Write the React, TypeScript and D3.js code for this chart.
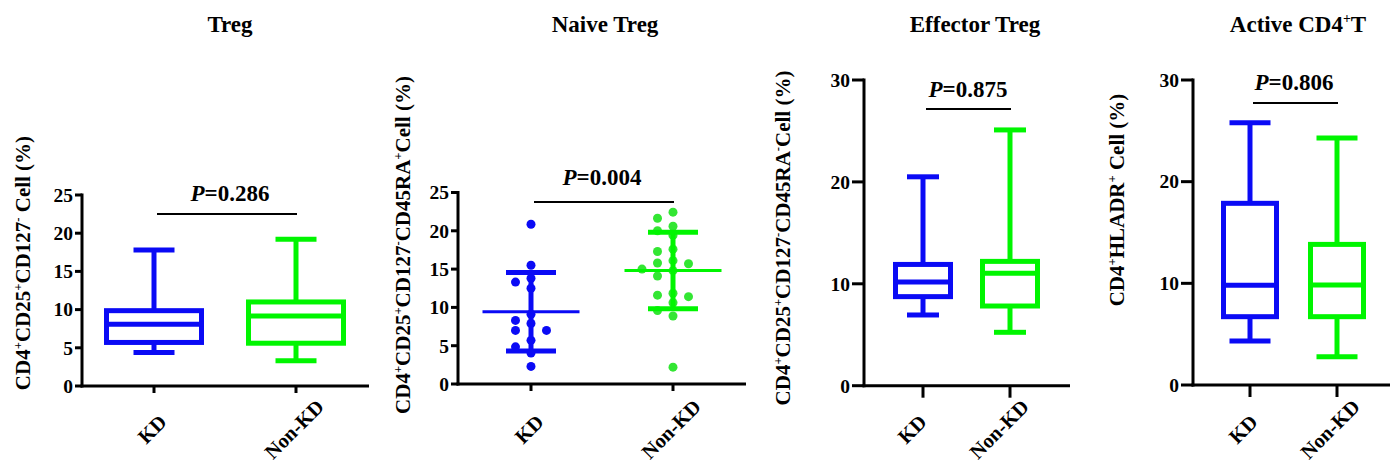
import React from "react";
import * as d3 from "d3";

// ---------- data ----------
const groups = ["KD", "Non-KD"];
const titles = ["Treg", "Naive Treg", "Effector Treg", "Active CD4^+T"];
const yLabels = [
  "CD4^+CD25^+CD127^- Cell (%)",
  "CD4^+CD25^+CD127^-CD45RA^+Cell (%)",
  "CD4^+CD25^+CD127^-CD45RA^-Cell (%)",
  "CD4^+HLADR^+ Cell (%)",
];
const pValues = ["0.286", "0.004", "0.875", "0.806"];
const ticks25 = [0, 5, 10, 15, 20, 25];
const ticks30 = [0, 10, 20, 30];

// box plots: [min, q1, median, q3, max]
const tregKD = [4.4, 5.7, 8.07, 9.86, 17.8];
const tregNonKD = [3.3, 5.6, 9.16, 11.0, 19.2];
const effectorKD = [6.94, 8.74, 10.18, 11.9, 20.5];
const effectorNonKD = [5.24, 7.82, 11.03, 12.2, 25.1];
const activeKD = [4.33, 6.72, 9.8, 17.87, 25.8];
const activeNonKD = [2.78, 6.72, 9.83, 13.83, 24.3];

// scatter (mean ± SD)
const naiveKD = [20.85, 15.5, 13.8, 13.3, 12.5, 9.1, 8.3, 7.9, 7.0, 7.0, 5.7, 4.85, 4.05, 2.3];
const naiveNonKD = [
  22.43, 21.64, 20.6, 20.0, 19.4, 17.6, 17.3, 16.1, 15.8, 15.7, 15.0, 14.8, 14.1,
  11.85, 11.6, 11.4, 10.6, 9.6, 8.87, 2.2,
];

// ---------- layout / style ----------
const BLUE = "#0a0af5";
const GREEN = "#00f500";
const GREEN_DOT = "#33e633";
const FONT = "'Liberation Serif', 'Times New Roman', serif";

type Panel = {
  kind: "box" | "dot";
  data: number[][];
  ticks: number[];
  yMax: number;
  axisX: number;
  y0: number;
  yTop: number;
  xKD: number;
  xNon: number;
  axisEnd: number;
  tickLen: number;
  boxW: number;
  capW: number;
  sigY: number;
  pX: number;
  pY: number;
  titleX: number;
  ylabX: number;
  ylabY: number;
  xlabDx: number;
};

const panels: Panel[] = [
  {
    kind: "box", data: [tregKD, tregNonKD], ticks: ticks25, yMax: 25,
    axisX: 82, y0: 386, yTop: 195, xKD: 154, xNon: 296, axisEnd: 369, tickLen: 7,
    boxW: 95, capW: 41, sigY: 214, pX: 230, pY: 201, titleX: 230, ylabX: 30, ylabY: 263, xlabDx: -2,
  },
  {
    kind: "dot", data: [naiveKD, naiveNonKD], ticks: ticks25, yMax: 25,
    axisX: 458, y0: 384, yTop: 192.5, xKD: 531, xNon: 673, axisEnd: 746, tickLen: 7,
    boxW: 97, capW: 50, sigY: 202, pX: 602, pY: 185, titleX: 605, ylabX: 410, ylabY: 245, xlabDx: -2,
  },
  {
    kind: "box", data: [effectorKD, effectorNonKD], ticks: ticks30, yMax: 30,
    axisX: 864, y0: 385.7, yTop: 80, xKD: 923, xNon: 1010, axisEnd: 1070, tickLen: 12,
    boxW: 55, capW: 32, sigY: 109, pX: 968, pY: 97, titleX: 975, ylabX: 790, ylabY: 238, xlabDx: -11,
  },
  {
    kind: "box", data: [activeKD, activeNonKD], ticks: ticks30, yMax: 30,
    axisX: 1193, y0: 385, yTop: 80, xKD: 1250, xNon: 1337, axisEnd: 1392, tickLen: 12,
    boxW: 53, capW: 41, sigY: 103, pX: 1294, pY: 90, titleX: 1298, ylabX: 1124, ylabY: 200, xlabDx: -7,
  },
];

// text with ^x superscripts
function RichText({ text, size }: { text: string; size: number }) {
  const parts: { t: string; sup: boolean }[] = [];
  let buf = "";
  for (let i = 0; i < text.length; i++) {
    if (text[i] === "^" && i + 1 < text.length) {
      if (buf) parts.push({ t: buf, sup: false });
      buf = "";
      parts.push({ t: text[i + 1], sup: true });
      i++;
    } else buf += text[i];
  }
  if (buf) parts.push({ t: buf, sup: false });
  const shift = size * 0.38;
  let raised = false;
  return (
    <>
      {parts.map((p, i) => {
        let dy = 0;
        if (p.sup && !raised) { dy = -shift; raised = true; }
        else if (!p.sup && raised) { dy = shift; raised = false; }
        return (
          <tspan key={i} dy={dy} fontSize={p.sup ? size * 0.6 : size}>
            {p.t}
          </tspan>
        );
      })}
    </>
  );
}

function beeswarm(values: number[], y: (v: number) => number, step: number, minDy: number) {
  const sorted = values.map((v, i) => ({ v, i })).sort((a, b) => b.v - a.v);
  const placed: { x: number; y: number; v: number }[] = [];
  const cands = [0, -1, 1, -2, 2, -3, 3];
  for (const d of sorted) {
    const py = y(d.v);
    for (const c of cands) {
      const px = c * step;
      const hit = placed.some((p) => Math.abs(p.x - px) < step * 0.9 && Math.abs(p.y - py) < minDy);
      if (!hit) { placed.push({ x: px, y: py, v: d.v }); break; }
    }
  }
  return placed;
}

function PanelView({ p, idx }: { p: Panel; idx: number }) {
  const y = d3.scaleLinear().domain([0, p.yMax]).range([p.y0, p.yTop]);
  const x = d3.scalePoint<string>().domain(groups).range([p.xKD, p.xNon]);
  const colors = [BLUE, GREEN];
  const dotColors = [BLUE, GREEN_DOT];
  const sw = 5;

  return (
    <g fontFamily={FONT} fontWeight="bold">
      {/* title */}
      <text x={p.titleX} y={32} textAnchor="middle" fontSize={23}>
        <RichText text={titles[idx]} size={23} />
      </text>
      {/* y label */}
      <text transform={`translate(${p.ylabX},${p.ylabY}) rotate(-90)`} textAnchor="middle" fontSize={21}>
        <RichText text={yLabels[idx]} size={21} />
      </text>

      {/* marks */}
      {p.kind === "box" &&
        groups.map((g, gi) => {
          const [mn, q1, md, q3, mx] = p.data[gi];
          const cx = x(g)!;
          const c = colors[gi];
          return (
            <g key={g} stroke={c} strokeWidth={sw} fill="none">
              <line x1={cx} x2={cx} y1={y(mx)} y2={y(q3)} />
              <line x1={cx} x2={cx} y1={y(q1)} y2={y(mn)} />
              <line x1={cx - p.capW / 2} x2={cx + p.capW / 2} y1={y(mx)} y2={y(mx)} />
              <line x1={cx - p.capW / 2} x2={cx + p.capW / 2} y1={y(mn)} y2={y(mn)} />
              <rect x={cx - p.boxW / 2} y={y(q3)} width={p.boxW} height={y(q1) - y(q3)} />
              <line x1={cx - p.boxW / 2 - 1} x2={cx + p.boxW / 2 + 2} y1={y(md)} y2={y(md)} />
            </g>
          );
        })}
      {p.kind === "dot" &&
        groups.map((g, gi) => {
          const vals = p.data[gi];
          const cx = x(g)!;
          const mean = d3.mean(vals)!;
          const sd = d3.deviation(vals)!;
          const pts = beeswarm(vals, y, 15.5, 8.5);
          const c = colors[gi];
          return (
            <g key={g}>
              {pts.map((pt, i) => (
                <circle key={i} cx={cx + pt.x} cy={pt.y} r={4.5} fill={dotColors[gi]} />
              ))}
              <g stroke={c}>
                <line x1={cx} x2={cx} y1={y(mean + sd)} y2={y(mean - sd)} strokeWidth={5} />
                <line x1={cx - p.capW / 2} x2={cx + p.capW / 2} y1={y(mean + sd)} y2={y(mean + sd)} strokeWidth={5} />
                <line x1={cx - p.capW / 2} x2={cx + p.capW / 2} y1={y(mean - sd)} y2={y(mean - sd)} strokeWidth={5} />
                <line x1={cx - p.boxW / 2} x2={cx + p.boxW / 2} y1={y(mean)} y2={y(mean)} strokeWidth={3} />
              </g>
            </g>
          );
        })}

      {/* axes */}
      <g stroke="#000" strokeWidth={3}>
        <line x1={p.axisX} x2={p.axisX} y1={y(p.yMax) - 1.5} y2={p.y0 + 1.5} />
        <line x1={p.axisX - 1.5} x2={p.axisEnd} y1={p.y0} y2={p.y0} />
        {p.ticks.map((t) => (
          <line key={t} x1={p.axisX - p.tickLen} x2={p.axisX} y1={y(t)} y2={y(t)} />
        ))}
        {groups.map((g) => (
          <line key={g} x1={x(g)} x2={x(g)} y1={p.y0} y2={p.y0 + p.tickLen} />
        ))}
      </g>
      {p.ticks.map((t) => (
        <text key={t} x={p.axisX - p.tickLen - 2} y={y(t)} dy="0.35em" textAnchor="end" fontSize={19.5}>
          {t}
        </text>
      ))}
      {groups.map((g) => (
        <text
          key={g}
          transform={`translate(${x(g)! + p.xlabDx},${429}) rotate(-45)`}
          textAnchor="middle"
          dy="0.35em"
          fontSize={20.5}
        >
          {g}
        </text>
      ))}

      {/* significance */}
      <line x1={x(groups[0])! + 3} x2={x(groups[1])! + 1} y1={p.sigY} y2={p.sigY} stroke="#000" strokeWidth={2} />
      <text x={p.pX} y={p.pY} textAnchor="middle" fontSize={23}>
        <tspan fontStyle="italic">P</tspan>
        <tspan>={pValues[idx]}</tspan>
      </text>
    </g>
  );
}

export default function App() {
  return (
    <svg
      width={1390}
      height={466}
      style={{ position: "absolute", left: 0, top: 0, background: "#fff", display: "block" }}
    >
      <rect width={1390} height={466} fill="#fff" />
      {panels.map((p, i) => (
        <PanelView key={i} p={p} idx={i} />
      ))}
    </svg>
  );
}
